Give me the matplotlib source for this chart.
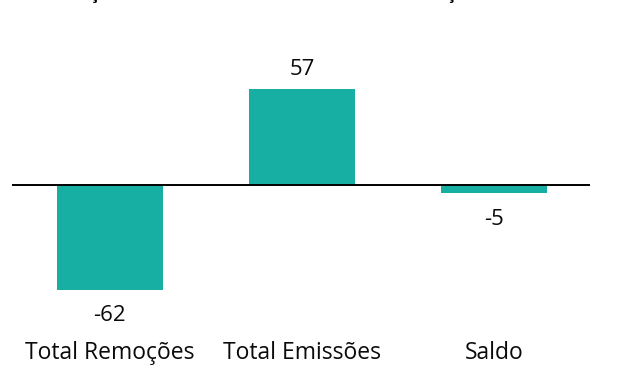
import matplotlib
matplotlib.use("Agg")
import matplotlib.pyplot as plt

categories = ["Total Remoções", "Total Emissões", "Saldo"]
values = [-62, 57, -5]
value_labels = ["-62", "57", "-5"]
title = "Remoções e Emissões Totais na Fazenda e Balanço em toneladas de CO₂"

plt.rcParams['font.family'] = ['Open Sans', 'DejaVu Sans']

W, H = 634, 369
fig = plt.figure(figsize=(W / 100, H / 100), dpi=100)
ax = fig.add_axes([12 / W, 39 / H, 578 / W, 290 / H])

x = list(range(len(categories)))
ax.bar(x, values, width=0.55, color="#17AFA3", zorder=2)
ax.axhline(0, color="black", linewidth=1.4, zorder=3)

ax.set_xlim(-0.51, 2.5)
ax.set_ylim(-85.8, 85.8)

for xi, v, lab in zip(x, values, value_labels):
    off = 14 if v >= 0 else -18.5
    ax.annotate(lab, (xi, v), xytext=(0, off), textcoords="offset points",
                ha="center", va="center", fontsize=16, color="#0a0a0a")

for xi, c in zip(x, categories):
    fig.text(ax.transData.transform((xi, 0))[0] / W, 1 - 353 / H, c,
             ha="center", va="center", fontsize=16.5, color="#0a0a0a")

ax.axis("off")

# Title: only its descenders are visible at the top edge, as in the reference.
renderer = fig.canvas.get_renderer()
i1 = title.index("ç")
i2 = title.index("ç", i1 + 1)

def prefix_width(s, fs):
    t = fig.text(0, 0, s + "|", fontsize=fs, fontweight="bold")
    w = t.get_window_extent(renderer).width
    t.remove()
    return w

fs0 = 12
d0 = prefix_width(title[:i2], fs0) - prefix_width(title[:i1], fs0)
fs = fs0 * 358 / d0
left = 93 - (prefix_width(title[:i1], fs) - prefix_width("", fs)) - 3
fig.text(left / W, 1 + 1 / H, title, ha="left", va="baseline", fontsize=fs,
         fontweight="bold", color="black")

fig.savefig("out.png", dpi=100)
